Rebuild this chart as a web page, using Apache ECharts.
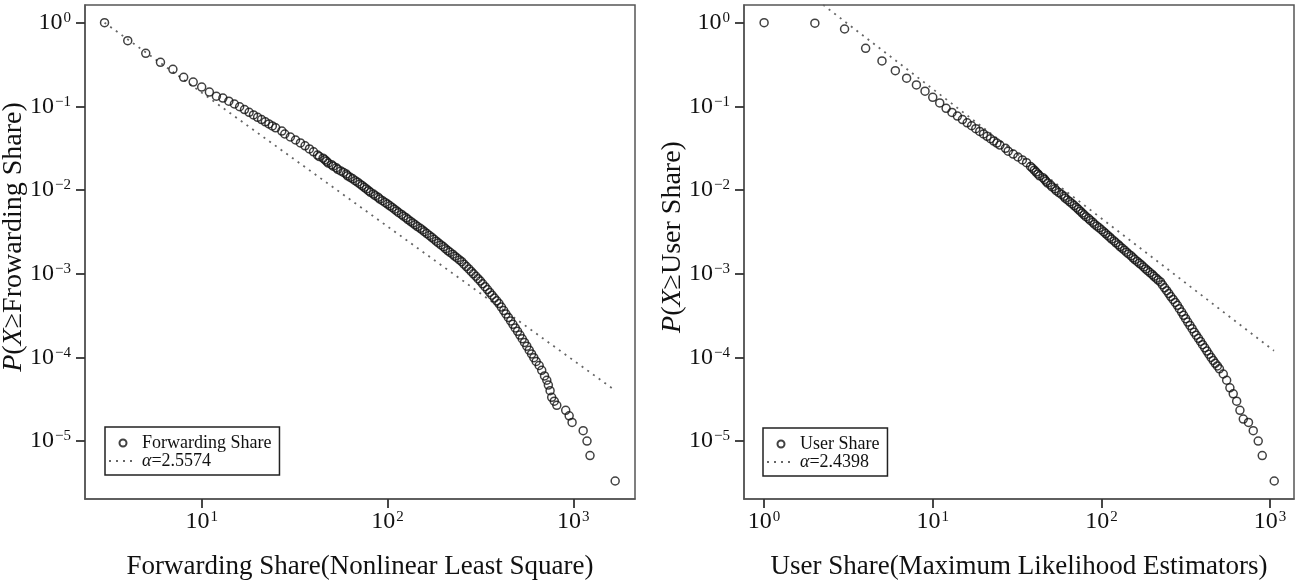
<!DOCTYPE html>
<html>
<head>
<meta charset="utf-8">
<script src="https://cdn.jsdelivr.net/npm/echarts@6/dist/echarts.min.js"></script>
<style>
html,body{margin:0;padding:0;background:#fff;}
#chart{width:1299px;height:587px;}
</style>
</head>
<body>
<div id="chart"></div>
<script>
// ---------- data ----------
// Left panel: Forwarding Share (CCDF)
const fwdX = [3,4,5,6,7,8,9,10,11,12,
  13,14,15,16,17,18,19,20,21,22,23,24,25,
  27,28,30,32,34,36,38,40,42,45,47,50,53,56,60,63,67,71,75,79,84,89,94,100,
  106,112,119,126,133,141,150,158,168,178,188,200,211,224,237,251,266,282,299,
  316,335,355,376,398,422,447,473,501,531,562,596,631,
  655,676,700,720,734,750,765,790,815,910,950,985,1130,1185,1230,1680];
const fwdY = [1.0,0.61,0.43,0.336,0.277,0.222,0.195,0.17,0.148,0.132,
  0.1256,0.1153,0.1067,0.0989,0.0914,0.0848,0.0789,0.0739,0.0694,0.0654,0.0616,0.0583,0.0553,
  0.0507,0.0467,0.0430,0.0396,0.0365,0.0337,0.0310,0.0286,0.0262,0.0240,0.0220,0.0201,0.01845,0.0169,0.01549,0.01419,0.01294,0.0118,0.01076,0.00982,0.00895,0.00817,0.00745,0.00679,
  0.00618,0.00562,0.00511,0.00465,0.00423,0.00384,0.00349,0.00318,0.00286,0.00258,0.00233,0.00210,0.00189,0.00171,0.00154,0.00139,0.001215,0.001064,9.32e-4,
  8.17e-4,6.99e-4,5.98e-4,5.12e-4,4.39e-4,3.63e-4,3.0e-4,2.48e-4,2.05e-4,1.67e-4,1.36e-4,1.10e-4,8.95e-5,
  8.0e-5,7.0e-5,6.0e-5,5.33e-5,4.67e-5,4.0e-5,3.33e-5,3.0e-5,2.67e-5,2.33e-5,2.0e-5,1.67e-5,1.33e-5,1.0e-5,6.7e-6,3.33e-6];
// extra points in the solid (overlapping) part of the band
const fwdDenseX = [43,46,48,51,54,58,61,65,69,73,77,81,86,91,97,103,109,115,122,129,137,145,154,163,173,183,194,
  205,217,230,244,258,274,290,307,325,345,365,387,410,434,460,487,516,546,579,613];
const fwdDenseY = [0.0251,0.0230,0.0210,0.0193,0.0177,0.0162,0.0148,0.0136,0.0124,0.0113,0.0103,0.00938,0.00855,0.0078,0.00711,0.00648,0.00589,0.00536,0.00487,0.00443,0.00403,0.00366,0.00333,0.00302,0.00272,0.00245,0.00221,
  0.00199,0.0018,0.00162,0.00146,0.0013,0.00114,9.96e-4,8.73e-4,7.56e-4,6.47e-4,5.53e-4,4.74e-4,3.99e-4,3.30e-4,2.73e-4,2.25e-4,1.85e-4,1.51e-4,1.22e-4,9.92e-5];
const fwdFitX = [3, 1637];
const fwdFitY = [1.0, 4.2e-5];

// Right panel: User Share (CCDF)
const userX = [1,2,3,4,5,6,7,8,9,10,11,
  12,13,14,15,16,17,18,19,20,21,22,23,24,25,
  27,28,30,32,34,36,38,40,42,45,47,50,53,56,60,63,67,71,75,79,84,89,94,100,
  106,112,119,126,133,141,150,158,168,178,188,200,211,224,237,251,266,282,299,
  316,335,355,376,398,422,447,473,501,
  528,553,578,605,634,663,694,745,795,851,899,1059];
const userY = [1.0,0.985,0.84,0.494,0.349,0.267,0.217,0.18,0.152,0.128,0.110,
  0.0946,0.0847,0.0766,0.0695,0.0635,0.0586,0.0541,0.0501,0.0468,0.0438,0.0410,0.0385,0.0364,0.0344,
  0.0315,0.0291,0.0269,0.0248,0.0229,0.0212,0.0191,0.01726,0.01558,0.01406,0.01269,0.01146,0.01034,0.00933,0.00842,0.0076,0.00686,0.00619,0.00559,0.00505,0.00456,0.00411,0.00371,0.00335,
  0.00302,0.00273,0.00246,0.00222,0.00201,0.00181,0.001635,0.001476,0.001332,0.001202,0.001085,9.80e-4,8.84e-4,7.98e-4,6.79e-4,5.78e-4,4.92e-4,4.19e-4,3.48e-4,
  2.90e-4,2.41e-4,2.00e-4,1.69e-4,1.42e-4,1.19e-4,1.00e-4,8.5e-5,7.3e-5,
  6.33e-5,5.33e-5,4.33e-5,3.67e-5,3.0e-5,2.33e-5,1.83e-5,1.67e-5,1.33e-5,1.0e-5,6.7e-6,3.33e-6];
const userDenseX = [39,41,43,46,48,51,54,58,61,65,69,73,77,81,86,91,97,103,109,115,122,129,137,145,154,163,173,183,194,
  205,217,230,244,258,274,290,307,325,345,365,387,410,434,460,487];
const userDenseY = [0.0182,0.0164,0.0148,0.0134,0.0121,0.0109,0.00982,0.00886,0.0080,0.00722,0.00652,0.00588,0.00531,0.0048,0.00433,0.0039,0.00353,0.00318,0.00287,0.00259,0.00234,0.00211,0.00191,0.00172,0.00155,0.0014,0.00127,0.00114,0.00103,
  9.31e-4,8.40e-4,7.36e-4,6.26e-4,5.33e-4,4.54e-4,3.82e-4,3.18e-4,2.64e-4,2.20e-4,1.84e-4,1.55e-4,1.30e-4,1.09e-4,9.2e-5,7.9e-5];
const userFitX = [2.24, 1055];
const userFitY = [1.63, 1.2e-4];

// texts
const seriesNames = ['Forwarding Share', '\u03b1=2.5574', 'User Share', '\u03b1=2.4398'];
const xTitles = ['Forwarding Share(Nonlinear Least Square)', 'User Share(Maximum Likelihood Estimators)'];
const yTitles = ['{i|P}({i|X}\u2265Frowarding Share)', '{i|P}({i|X}\u2265User Share)'];

// ---------- styling ----------
const FONT = "'Liberation Serif', 'Times New Roman', serif";
const INK = '#111';
const FRAME = '#555';

function powLabel(v) {
  const e = Math.round(Math.log10(v));
  return '{b|10}{s|' + (e < 0 ? '\u2212' + (-e) : e) + '}';
}
const labelRich = {
  b: { fontFamily: FONT, fontSize: 24, color: INK, lineHeight: 24, padding: [9, 0, 0, 0], verticalAlign: 'bottom' },
  s: { fontFamily: FONT, fontSize: 15, color: INK, lineHeight: 15, verticalAlign: 'top', padding: [0, 0, 0, 1] }
};

function xAxisFor(idx, min, max) {
  return {
    gridIndex: idx, type: 'log', logBase: 10, min: min, max: max,
    axisLine: { show: true, onZero: false, lineStyle: { color: FRAME, width: 1.5 } },
    axisTick: { show: true, length: 9, lineStyle: { color: '#333', width: 1.8 } },
    axisLabel: { formatter: powLabel, rich: labelRich, margin: 11, showMinLabel: false, showMaxLabel: false },
    splitLine: { show: false }, minorTick: { show: false }, minorSplitLine: { show: false },
    name: xTitles[idx], nameLocation: 'middle', nameGap: 54, nameMoveOverlap: false,
    nameTextStyle: { fontFamily: FONT, fontSize: 27, color: INK }
  };
}
function yAxisFor(idx) {
  return {
    gridIndex: idx, type: 'log', logBase: 10, min: 2.03e-6, max: 1.626,
    axisLine: { show: true, onZero: false, lineStyle: { color: FRAME, width: 1.5 } },
    axisTick: { show: true, length: 9, lineStyle: { color: '#333', width: 1.8 } },
    axisLabel: { formatter: powLabel, rich: labelRich, margin: 14, showMinLabel: false, showMaxLabel: false },
    splitLine: { show: false }, minorTick: { show: false }, minorSplitLine: { show: false },
    name: yTitles[idx], nameLocation: 'middle', nameGap: 57, nameMoveOverlap: false,
    nameTextStyle: {
      fontFamily: FONT, fontSize: 28, color: INK, padding: [0, 0, 0, 30],
      rich: { i: { fontFamily: FONT, fontSize: 28, fontStyle: 'italic', color: INK } }
    }
  };
}

function pairs(xs, ys) { return xs.map((x, i) => [x, ys[i]]); }

function scatterSeries(idx, name, xs, ys, dxs, dys) {
  return {
    type: 'scatter', name: name, xAxisIndex: idx, yAxisIndex: idx,
    data: pairs(xs, ys).concat(pairs(dxs, dys)), symbol: 'circle', symbolSize: 8,
    itemStyle: { color: 'rgba(0,0,0,0)', borderColor: '#111', borderWidth: 1.5 },
    emphasis: { disabled: true }, z: 3
  };
}
function fitSeries(idx, name, xs, ys) {
  return {
    type: 'line', name: name, xAxisIndex: idx, yAxisIndex: idx,
    data: pairs(xs, ys), symbol: 'none', clip: true,
    lineStyle: { type: [2, 5], width: 1.8, color: '#666' },
    itemStyle: { color: 'rgba(0,0,0,0)', borderWidth: 0 },
    emphasis: { disabled: true }, z: 2
  };
}
function legendFor(names, left, top) {
  return {
    data: names, left: left, top: top, orient: 'vertical',
    itemWidth: 28, itemHeight: 7, itemGap: 0,
    padding: [7, 8, 5, 3], borderColor: '#222', borderWidth: 1.5,
    selectedMode: false,
    textStyle: {
      fontFamily: FONT, fontSize: 18, color: INK, lineHeight: 18,
      rich: { i: { fontFamily: FONT, fontSize: 18, fontStyle: 'italic', color: INK, lineHeight: 18 } }
    },
    formatter: n => n.charAt(0) === '\u03b1' ? '{i|\u03b1}' + n.slice(1) : n
  };
}

const chart = echarts.init(document.getElementById('chart'), null, { renderer: 'canvas' });
chart.setOption({
  backgroundColor: '#fff',
  animation: false,
  grid: [
    { left: 85, top: 5, width: 550, height: 494, show: true, borderColor: FRAME, borderWidth: 1.5, backgroundColor: 'transparent', containLabel: false, outerBoundsMode: 'none' },
    { left: 744, top: 5, width: 550, height: 494, show: true, borderColor: FRAME, borderWidth: 1.5, backgroundColor: 'transparent', containLabel: false, outerBoundsMode: 'none' }
  ],
  xAxis: [ xAxisFor(0, 2.355, 2148), xAxisFor(1, 0.760, 1387) ],
  yAxis: [ yAxisFor(0), yAxisFor(1) ],
  legend: [ legendFor([seriesNames[0], seriesNames[1]], 105, 427), legendFor([seriesNames[2], seriesNames[3]], 763, 428) ],
  series: [
    scatterSeries(0, seriesNames[0], fwdX, fwdY, fwdDenseX, fwdDenseY),
    fitSeries(0, seriesNames[1], fwdFitX, fwdFitY),
    scatterSeries(1, seriesNames[2], userX, userY, userDenseX, userDenseY),
    fitSeries(1, seriesNames[3], userFitX, userFitY)
  ]
});
</script>
</body>
</html>
